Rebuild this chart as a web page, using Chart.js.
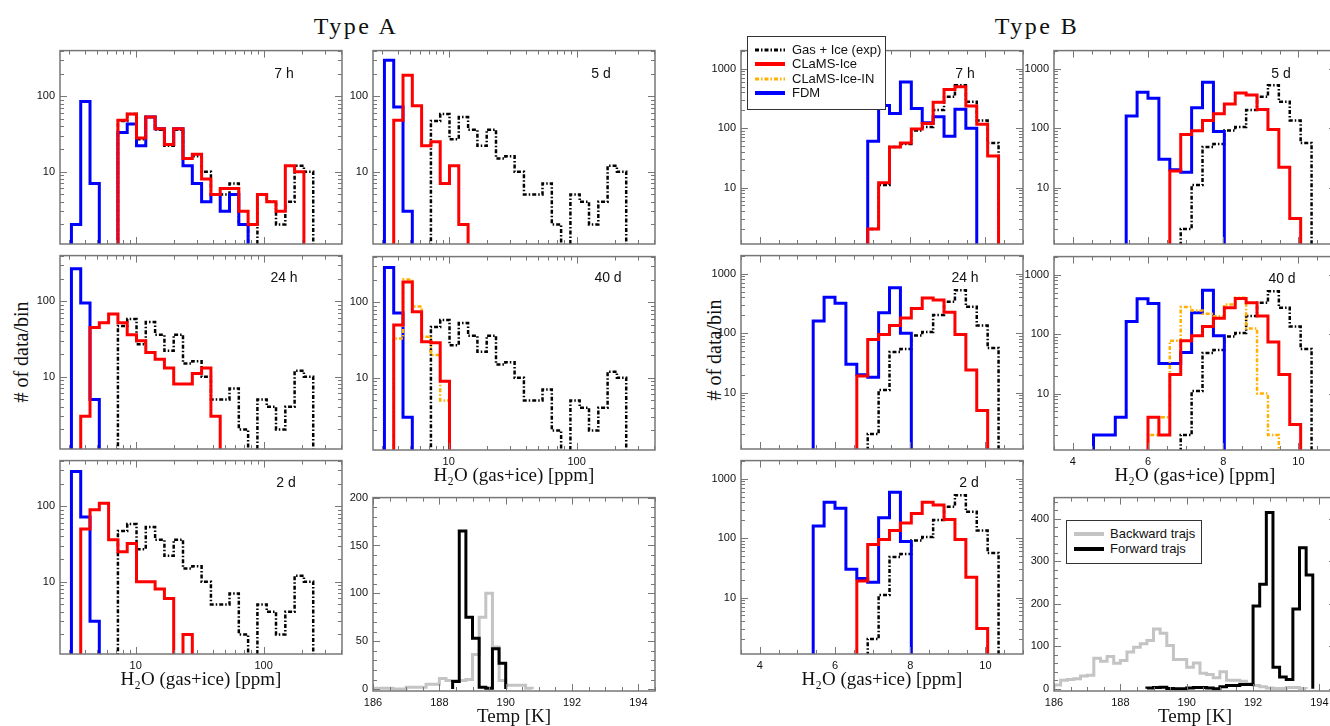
<!DOCTYPE html>
<html>
<head>
<meta charset="utf-8">
<script src="https://cdn.jsdelivr.net/npm/chart.js@4.4.0/dist/chart.umd.min.js"></script>
<style>
  body { margin: 0; width: 1330px; height: 726px; overflow: hidden; background: #fff; position: relative;
         font-family: "Liberation Sans", Arial, sans-serif; }
  .txt { position: absolute; white-space: nowrap; transform: translate(-50%, -50%); color: #111; }
  .big { font-family: "Liberation Serif", serif; font-size: 24px; letter-spacing: 2.5px; }
  .ylab { font-family: "Liberation Serif", serif; font-size: 20px; transform: translate(-50%, -50%) rotate(-90deg); }
  .plab { font-size: 14px; }
  .legend { position: absolute; background: #fff; border: 1.5px solid #333; box-sizing: border-box; z-index: 5; }
  .legend .row { position: absolute; left: 0; right: 0; height: 14px; }
  .legend svg { position: absolute; left: 7px; top: 3px; }
  .legend span { position: absolute; top: -1px; line-height: 16px; color: #111; white-space: nowrap; }
</style>
</head>
<body>
<div class="txt big" style="left:356px;top:25.5px">Type A</div>
<div class="txt big" style="left:1037px;top:25.5px">Type B</div>
<div class="txt ylab" style="left:21px;top:352px"># of data/bin</div>
<div class="txt ylab" style="left:714px;top:350px"># of data/bin</div>

<script>
// ---- Type A: H2O histograms (log bins, counts per bin) ----
const aEdges = [3.145, 3.717, 4.394, 5.195, 6.141, 7.261, 8.584, 10.15, 11.99, 14.18, 16.77, 19.82, 23.43,
                27.71, 32.75, 38.73, 45.78, 54.12, 63.99, 75.65, 89.44, 105.7, 125.0, 147.8, 174.7, 206.5, 244.2];
const aExp      = [0,0,0,0,0,47,58,27,53,36,22,36,15,16,10,5,5,7,2,0,5,4,2,4,12,10];
const a7hRed    = [0,0,0,0,0,48,58,28,53,37,23,37,15,17,8,5,6,6,3,2,5,4,3,12,10];
const a7hFdm    = [2,85,7,0,0,33,43,22,53,37,23,37,12,7,4,5,3,5,2];
const a5dRed    = [0,48,190,75,22,25,7,12,2];
const a5dFdm    = [300,72,3];
const a24hRed   = [0,3,45,52,68,52,36,30,21,17,13,8,8,11,13,3];
const a24hFdm   = [270,95,5];
const a40dRed   = [0,50,185,75,30,29,9];
const a40dIceIn = [0,33,200,88,35,20,5];
const a40dFdm   = [290,72,3];
const a2dRed    = [0,50,90,110,36,25,32,10,10,8,6,0,2];
const a2dFdm    = [290,72,3];

// ---- Type B: H2O histograms ----
const bEdges = [4.55, 4.84, 5.13, 5.42, 5.71, 6.00, 6.29, 6.58, 6.87, 7.16, 7.45, 7.74, 8.03, 8.32, 8.61,
                8.90, 9.19, 9.48, 9.77, 10.06, 10.35];
const bExp      = [0,0,0,0,0,0,0,0,2,11,48,54,91,104,202,337,528,278,134,56];
const b7hRed    = [0,0,0,0,0,0,0,0,2,12,48,56,97,120,274,449,498,235,116,34];
const b7hFdm    = [0,0,0,0,0,0,0,0,60,241,177,596,214,123,155,73,207,100];
const b5dRed    = [0,0,0,0,0,0,0,19,78,90,135,175,255,390,360,205,95,22,3];
const b5dFdm    = [0,0,0,160,400,320,30,20,18,220,590,88];
const b24hRed   = [0,0,0,0,0,0,0,19,78,95,135,180,260,390,360,225,95,24,5];
const b24hFdm   = [0,0,0,160,400,320,30,20,18,220,580,100];
const b40dRed   = [0,0,0,0,0,4,2,21,77,94,134,185,278,398,337,202,74,21,3];
const b40dIceIn = [0,0,0,0,0,2,4,77,285,250,220,200,316,410,124,10,2];
const b40dFdm   = [2,2,4,163,393,329,32,32,49,230,548,94];
const b2dRed    = [0,0,0,0,0,0,0,19,78,95,135,180,260,400,360,205,95,22,3];
const b2dFdm    = [0,0,0,160,400,320,30,21,18,220,590,88];

// ---- temperature histograms (0.2 K bins) ----
const tEdges = [186.0, 186.2, 186.4, 186.6, 186.8, 187.0, 187.2, 187.4, 187.6, 187.8, 188.0, 188.2, 188.4, 188.6,
                188.8, 189.0, 189.2, 189.4, 189.6, 189.8, 190.0, 190.2, 190.4, 190.6, 190.8, 191.0, 191.2, 191.4,
                191.6, 191.8, 192.0, 192.2, 192.4, 192.6, 192.8, 193.0, 193.2, 193.4, 193.6, 193.8, 194.0];
const aBack = [1,1,1,0,0,2,2,2,5,5,11,9,9,9,10,36,75,100,44,9,4,4,4,1];
const aFwd  = [0,0,0,0,0,0,0,0,0,0,0,0,8,165,75,53,2,1,42,27];
const bBack = [9,20,22,24,30,32,72,65,76,60,67,87,98,106,114,141,131,102,69,69,51,61,37,34,26,40,20,20,18,12,8,5,2,1,1,3,3,1];
const bFwd  = [0,0,0,0,0,0,0,0,0,0,0,0,0,0,2,3,4,1,0,0,2,3,3,2,0,5,8,8,10,10,195,246,415,51,28,22,188,332,268];

// tick labels
const aLogTicks = [10, 100];
const bXTicks = [4, 6, 8, 10];
const bLogTicks = [10, 100, 1000];
const tXTicks = [186, 188, 190, 192, 194];
const aTempYTicks = [0, 50, 100, 150, 200];
const bTempYTicks = [0, 100, 200, 300, 400];

const H2O = 'H\u2082O (gas+ice) [ppm]';
const TEMP = 'Temp [K]';

Chart.defaults.font.family = '"Liberation Sans", Arial, sans-serif';
Chart.defaults.font.size = 11;
Chart.defaults.color = '#222';

const RED = '#ff0000', BLUE = '#0000ff', ORANGE = '#ffb000', GREY = '#c4c4c4';
const DASHDOT = [4, 2, 1.5, 2];
const PAD = {l: 40, t: 10, r: 12, b: 50};

// histogram outline: (edge, count) steps dropping to the floor at both ends
function steps(edges, counts, floor) {
  let i0 = counts.findIndex(c => c > 0), i1 = counts.length - 1;
  while (i1 > i0 && !(counts[i1] > 0)) i1--;
  const pts = [{x: edges[i0], y: floor}];
  for (let i = i0; i <= i1; i++) {
    const v = counts[i] > 0 ? counts[i] : floor;
    pts.push({x: edges[i], y: v}, {x: edges[i + 1], y: v});
  }
  pts.push({x: edges[i1 + 1], y: floor});
  return pts;
}

function logMarks(min, max) {
  const out = [];
  for (let e = Math.floor(Math.log10(min)); e <= Math.ceil(Math.log10(max)); e++)
    for (let m = 1; m <= 9; m++) {
      const v = m * Math.pow(10, e);
      if (v >= min && v <= max) out.push([v, m === 1 ? 7 : 4]);
    }
  return out;
}
function linMarks(min, max, step, major) {
  const out = [];
  for (let v = Math.ceil(min / step) * step; v <= max + 1e-9; v += step) {
    const r = Math.round(v * 1000) / 1000;
    out.push([r, Math.abs(r / major - Math.round(r / major)) < 1e-6 ? 7 : 4]);
  }
  return out;
}

// frame and inward ticks on all four sides
const frameTicks = {
  id: 'frameTicks',
  afterDatasetsDraw(chart, args, o) {
    const {ctx, chartArea: a, scales: {x, y}} = chart;
    ctx.save();
    ctx.strokeStyle = '#777';
    ctx.lineWidth = 1;
    ctx.beginPath();
    o.xm.forEach(([v, len]) => {
      const px = Math.round(x.getPixelForValue(v)) + 0.5;
      ctx.moveTo(px, a.bottom); ctx.lineTo(px, a.bottom - len);
      ctx.moveTo(px, a.top); ctx.lineTo(px, a.top + len);
    });
    o.ym.forEach(([v, len]) => {
      const py = Math.round(y.getPixelForValue(v)) + 0.5;
      ctx.moveTo(a.left, py); ctx.lineTo(a.left + len, py);
      ctx.moveTo(a.right, py); ctx.lineTo(a.right - len, py);
    });
    ctx.stroke();
    ctx.lineWidth = 1.5;
    ctx.strokeRect(a.left, a.top, a.right - a.left, a.bottom - a.top);
    ctx.restore();
  }
};

function axis(type, min, max, ticks, showLabels, title, isX) {
  return {
    type, min, max, bounds: 'data',
    afterFit: s => { if (isX) s.height = PAD.b; else s.width = PAD.l; },
    afterBuildTicks: s => { s.ticks = ticks.map(v => ({value: v})); },
    grid: {display: false, drawTicks: false},
    border: {display: false},
    ticks: {display: showLabels, padding: 5, autoSkip: false, maxRotation: 0,
            callback: v => String(v), color: '#111', font: {size: 11}},
    title: {display: !!title, text: title || '', color: '#111',
            font: {family: '"Liberation Serif", serif', size: 19}, padding: {top: 0, bottom: 13}}
  };
}

function panel(box, cfg) {
  const W = box.w + PAD.l + PAD.r, H = box.h + PAD.t + PAD.b;
  const cv = document.createElement('canvas');
  cv.width = W; cv.height = H;
  cv.style.cssText = `position:absolute;left:${box.x - PAD.l}px;top:${box.y - PAD.t}px;width:${W}px;height:${H}px`;
  document.body.appendChild(cv);
  new Chart(cv, {
    type: 'line',
    data: {
      datasets: cfg.series.map(s => ({
        data: steps(cfg.edges, s.counts, cfg.floor),
        borderColor: s.color, borderWidth: s.width || 3, borderDash: s.dash || [],
        borderJoinStyle: 'miter', pointRadius: 0, fill: false, tension: 0, clip: 0
      }))
    },
    options: {
      responsive: false, animation: false, events: [],
      layout: {padding: {left: 0, top: PAD.t, right: PAD.r, bottom: 0}},
      plugins: {legend: {display: false}, tooltip: {enabled: false}, frameTicks: {xm: cfg.xm, ym: cfg.ym}},
      scales: {
        x: axis(cfg.xType, cfg.xMin, cfg.xMax, cfg.xTicks, !!cfg.xLabels, cfg.xTitle, true),
        y: axis(cfg.yType, cfg.yMin, cfg.yMax, cfg.yTicks, true, null, false)
      }
    },
    plugins: [frameTicks]
  });
  if (cfg.label) {
    const d = document.createElement('div');
    d.className = 'txt plab';
    d.style.left = cfg.label[1] + 'px';
    d.style.top = cfg.label[2] + 'px';
    d.textContent = cfg.label[0];
    document.body.appendChild(d);
  }
}

const exp = c => ({counts: c, color: '#000', width: 2.5, dash: DASHDOT});
const red = c => ({counts: c, color: RED});
const fdm = c => ({counts: c, color: BLUE});
const icein = c => ({counts: c, color: ORANGE, width: 2.5, dash: DASHDOT});

const A = {edges: aEdges, floor: 0.5, xType: 'logarithmic', xMin: 2.56, xMax: 410, xTicks: aLogTicks,
           yType: 'logarithmic', yMin: 1.1, yMax: 403, yTicks: aLogTicks,
           xm: logMarks(2.56, 410), ym: logMarks(1.1, 403)};
const B = {edges: bEdges, floor: 0.5, xType: 'linear', xMin: 3.5, xMax: 11.0, xTicks: bXTicks,
           yType: 'logarithmic', yMin: 1.12, yMax: 2020, yTicks: bLogTicks,
           xm: linMarks(3.5, 11, 0.5, 2), ym: logMarks(1.12, 2020)};
const T = {edges: tEdges, floor: 0, xType: 'linear', xMin: 186, xMax: 194.5, xTicks: tXTicks,
           yType: 'linear', xLabels: true, xTitle: TEMP, xm: linMarks(186, 194.5, 0.5, 2)};

// Type A
panel({x: 60, y: 49, w: 282, h: 195}, {...A, label: ['7 h', 284, 73],
  series: [red(a7hRed), fdm(a7hFdm), exp(aExp)]});
panel({x: 373, y: 49, w: 282, h: 195}, {...A, label: ['5 d', 601, 73],
  series: [red(a5dRed), fdm(a5dFdm), exp(aExp)]});
panel({x: 60, y: 254, w: 282, h: 195}, {...A, label: ['24 h', 284, 277],
  series: [red(a24hRed), fdm(a24hFdm), exp(aExp)]});
panel({x: 373, y: 255, w: 282, h: 195}, {...A, label: ['40 d', 608, 277], xLabels: true, xTitle: H2O,
  series: [red(a40dRed), icein(a40dIceIn), fdm(a40dFdm), exp(aExp)]});
panel({x: 60, y: 459, w: 282, h: 195}, {...A, label: ['2 d', 286, 482], xLabels: true, xTitle: H2O,
  series: [red(a2dRed), fdm(a2dFdm), exp(aExp)]});
panel({x: 373, y: 496, w: 282, h: 195}, {...T, yMin: -2, yMax: 200, yTicks: aTempYTicks,
  ym: linMarks(-2, 200, 10, 50),
  series: [{counts: aFwd, color: '#000'}, {counts: aBack, color: GREY}]});

// Type B
panel({x: 741, y: 49, w: 282, h: 195}, {...B, label: ['7 h', 965, 73],
  series: [red(b7hRed), fdm(b7hFdm), exp(bExp)]});
panel({x: 1054, y: 49, w: 282, h: 195}, {...B, label: ['5 d', 1281, 73],
  series: [red(b5dRed), fdm(b5dFdm), exp(bExp)]});
panel({x: 741, y: 254, w: 282, h: 195}, {...B, label: ['24 h', 965, 277],
  series: [red(b24hRed), fdm(b24hFdm), exp(bExp)]});
panel({x: 1054, y: 255, w: 282, h: 195}, {...B, label: ['40 d', 1282, 278], xLabels: true, xTitle: H2O,
  series: [red(b40dRed), icein(b40dIceIn), fdm(b40dFdm), exp(bExp)]});
panel({x: 741, y: 459, w: 282, h: 195}, {...B, label: ['2 d', 969, 482], xLabels: true, xTitle: H2O,
  series: [red(b2dRed), fdm(b2dFdm), exp(bExp)]});
panel({x: 1054, y: 496, w: 282, h: 195}, {...T, yMin: -5, yMax: 450, yTicks: bTempYTicks,
  ym: linMarks(-5, 450, 20, 100),
  series: [{counts: bFwd, color: '#000'}, {counts: bBack, color: GREY}]});

// legends
function legend(box, rows, fontSize, textX) {
  const d = document.createElement('div');
  d.className = 'legend';
  d.style.cssText = `left:${box.x}px;top:${box.y}px;width:${box.w}px;height:${box.h}px`;
  rows.forEach(([text, color, width, dash], i) => {
    const r = document.createElement('div');
    r.className = 'row';
    r.style.top = (box.first + i * box.step - 7) + 'px';
    r.innerHTML = `<svg width="32" height="8"><line x1="0" y1="4" x2="30" y2="4" stroke="${color}"
      stroke-width="${width}" stroke-dasharray="${dash ? dash.join(' ') : 'none'}"/></svg>
      <span style="left:${textX}px;font-size:${fontSize}px">${text}</span>`;
    d.appendChild(r);
  });
  document.body.appendChild(d);
}
legend({x: 747, y: 36, w: 139, h: 74, first: 13, step: 14.3}, [
  ['Gas + Ice (exp)', '#000', 3, DASHDOT],
  ['CLaMS-Ice', RED, 4, null],
  ['CLaMS-Ice-IN', ORANGE, 3, DASHDOT],
  ['FDM', BLUE, 4, null]
], 13, 44);
legend({x: 1066, y: 520, w: 136, h: 44, first: 13, step: 14.5}, [
  ['Backward trajs', GREY, 4, null],
  ['Forward trajs', '#000', 4, null]
], 13, 43);
</script>
</body>
</html>
